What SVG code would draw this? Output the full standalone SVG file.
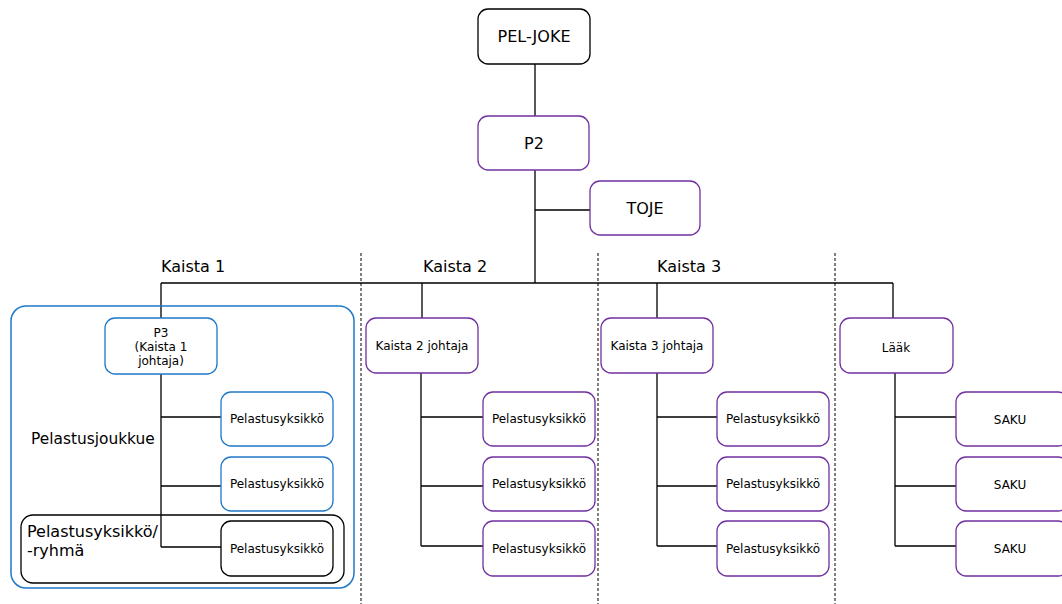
<svg xmlns="http://www.w3.org/2000/svg" width="1062" height="604" viewBox="0 0 1062 604">
<style>
.bx{fill:#fff;stroke-width:1.3}
.k{stroke:#000}
.p{stroke:#7030A0}
.b{stroke:#1F78C8}
.ln{stroke:#000;stroke-width:1.3;fill:none}
.ds{stroke:#000;stroke-width:1;stroke-dasharray:3,2;fill:none}
text{font-family:"DejaVu Sans","Liberation Sans",sans-serif;fill:#000}
.s{font-size:12px;text-anchor:middle}
.m{font-size:16px;text-anchor:middle}
.l{font-size:16px}
</style>
<rect width="1062" height="604" fill="#fff"/>
<g id="connectors">
<path class="ln" d="M535 64V116M535 170V283M535 210H590M161 283H893M161 283V318M422 283V318M657 283V318M893 283V318"/>
<path class="ln" d="M161 374V547M161 417H221M161 486H221M161 547H221"/>
<path class="ln" d="M421 373V546M421 417H483M421 486H483M421 546H483"/>
<path class="ln" d="M657 373V546M657 417H717M657 486H717M657 546H717"/>
<path class="ln" d="M895 373V546M895 417H956M895 486H956M895 546H956"/>
<path class="ds" d="M361 253V604M598 253V604M835 253V604"/>
</g>
<g id="lanes">
<text class="l" x="161" y="272">Kaista 1</text>
<text class="l" x="423" y="272">Kaista 2</text>
<text class="l" x="657" y="272">Kaista 3</text>
</g>
<g id="kaista1-group">
<rect x="11" y="306" width="343" height="282" rx="15" fill="none" stroke="#1F78C8" stroke-width="1.5"/>
<text class="l" x="31" y="444" style="font-size:15.4px">Pelastusjoukkue</text>
</g>
<g id="ryhma-group">
<rect x="21" y="515" width="323" height="68" rx="12" fill="none" stroke="#000" stroke-width="1.3"/>
<text class="l" x="27" y="537">Pelastusyksikkö/</text>
<text class="l" x="27" y="556">-ryhmä</text>
</g>
<g id="peljoke"><rect class="bx k" x="478" y="9" width="112" height="55" rx="10"/><text class="m" x="534" y="42">PEL-JOKE</text></g>
<g id="p2"><rect class="bx p" x="478" y="116" width="111" height="54" rx="10"/><text class="m" x="534" y="149">P2</text></g>
<g id="toje"><rect class="bx p" x="590" y="181" width="110" height="54" rx="10"/><text class="m" x="645" y="214">TOJE</text></g>
<g id="p3"><rect class="bx b" x="105" y="318" width="112" height="56" rx="10"/>
<text class="s" x="161" y="337">P3</text><text class="s" x="161" y="351">(Kaista 1</text><text class="s" x="161" y="365">johtaja)</text></g>
<g id="k1u1"><rect class="bx b" x="221" y="392" width="112" height="54" rx="10"/><text class="s" x="277" y="423">Pelastusyksikkö</text></g>
<g id="k1u2"><rect class="bx b" x="221" y="457" width="112" height="54" rx="10"/><text class="s" x="277" y="488">Pelastusyksikkö</text></g>
<g id="k1u3"><rect class="bx k" x="221" y="521" width="112" height="55" rx="10"/><text class="s" x="277" y="553">Pelastusyksikkö</text></g>
<g id="k2lead"><rect class="bx p" x="366" y="318" width="112" height="55" rx="10"/><text class="s" x="422" y="350">Kaista 2 johtaja</text></g>
<g id="k2u1"><rect class="bx p" x="483" y="392" width="112" height="54" rx="10"/><text class="s" x="539" y="423">Pelastusyksikkö</text></g>
<g id="k2u2"><rect class="bx p" x="483" y="457" width="112" height="54" rx="10"/><text class="s" x="539" y="488">Pelastusyksikkö</text></g>
<g id="k2u3"><rect class="bx p" x="483" y="521" width="112" height="55" rx="10"/><text class="s" x="539" y="553">Pelastusyksikkö</text></g>
<g id="k3lead"><rect class="bx p" x="601" y="318" width="112" height="55" rx="10"/><text class="s" x="657" y="350">Kaista 3 johtaja</text></g>
<g id="k3u1"><rect class="bx p" x="717" y="392" width="112" height="54" rx="10"/><text class="s" x="773" y="423">Pelastusyksikkö</text></g>
<g id="k3u2"><rect class="bx p" x="717" y="457" width="112" height="54" rx="10"/><text class="s" x="773" y="488">Pelastusyksikkö</text></g>
<g id="k3u3"><rect class="bx p" x="717" y="521" width="112" height="55" rx="10"/><text class="s" x="773" y="553">Pelastusyksikkö</text></g>
<g id="laak"><rect class="bx p" x="840" y="318" width="113" height="55" rx="10"/><text class="s" x="896" y="352">Lääk</text></g>
<g id="saku1"><rect class="bx p" x="956" y="392" width="112" height="54" rx="10"/><text class="s" x="1010" y="424">SAKU</text></g>
<g id="saku2"><rect class="bx p" x="956" y="457" width="112" height="54" rx="10"/><text class="s" x="1010" y="489">SAKU</text></g>
<g id="saku3"><rect class="bx p" x="956" y="521" width="112" height="55" rx="10"/><text class="s" x="1010" y="553">SAKU</text></g>
</svg>
